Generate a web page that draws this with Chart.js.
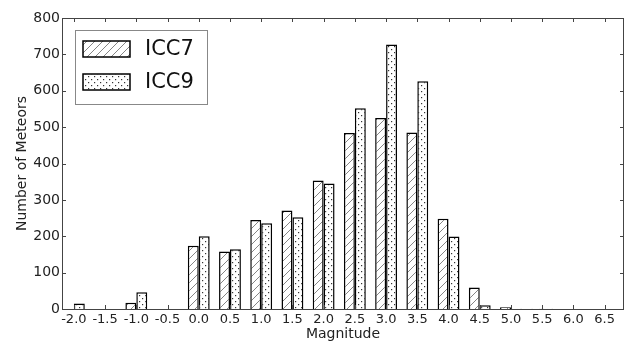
<!DOCTYPE html>
<html>
<head>
<meta charset="utf-8">
<script src="https://cdn.jsdelivr.net/npm/chart.js@4"></script>
<style>
  html, body { margin: 0; padding: 0; background: #fff; }
  #wrap { width: 625px; height: 343px; }
</style>
</head>
<body>
<div id="wrap"><canvas id="chart"></canvas></div>
<script>
// Data
const magnitudes = [-2.0, -1.5, -1.0, -0.5, 0.0, 0.5, 1.0, 1.5, 2.0, 2.5, 3.0, 3.5, 4.0, 4.5, 5.0, 5.5, 6.0, 6.5];
const icc7 = [0, 0, 17, 0, 174, 158, 245, 271, 353, 484, 525, 485, 248, 59, 5, 1, 0, 0];
const icc9 = [15, 0, 46, 0, 200, 164, 236, 252, 345, 552, 727, 626, 199, 10, 1, 1, 0, 0];
const yTicks = [0, 100, 200, 300, 400, 500, 600, 700, 800];

// --- fill patterns ---
function makeHatch() {
    const c = document.createElement('canvas');
    c.width = 8; c.height = 8;
    const g = c.getContext('2d');
    g.fillStyle = '#fff';
    g.fillRect(0, 0, 8, 8);
    g.strokeStyle = '#777';
    g.lineWidth = 0.9;
    g.beginPath();
    g.moveTo(0, 8); g.lineTo(8, 0);
    g.moveTo(-1, 1); g.lineTo(1, -1);
    g.moveTo(7, 9); g.lineTo(9, 7);
    g.stroke();
    return g.createPattern(c, 'repeat');
}

function makeDots() {
    const c = document.createElement('canvas');
    c.width = 6; c.height = 6;
    const g = c.getContext('2d');
    g.fillStyle = '#fff';
    g.fillRect(0, 0, 6, 6);
    g.fillStyle = '#333';
    g.fillRect(1, 1, 1.2, 1.2);
    g.fillRect(4, 4, 1.2, 1.2);
    return g.createPattern(c, 'repeat');
}

const hatch = makeHatch();
const dots = makeDots();

// frame, inward ticks and the legend box, matplotlib style
const framePlugin = {
    id: 'frame',
    afterDatasetsDraw(chart) {
        const { ctx, chartArea: a, scales } = chart;
        ctx.save();
        ctx.strokeStyle = '#444';
        ctx.lineWidth = 1;
        ctx.strokeRect(a.left + 0.5, a.top + 0.5, a.right - a.left - 1, a.bottom - a.top);
        ctx.beginPath();
        magnitudes.forEach(m => {
            const x = Math.round(scales.x.getPixelForValue(m)) + 0.5;
            ctx.moveTo(x, a.bottom); ctx.lineTo(x, a.bottom - 4);
            ctx.moveTo(x, a.top); ctx.lineTo(x, a.top + 4);
        });
        yTicks.forEach(v => {
            const y = Math.round(scales.y.getPixelForValue(v)) + 0.5;
            ctx.moveTo(a.left, y); ctx.lineTo(a.left + 4, y);
            ctx.moveTo(a.right, y); ctx.lineTo(a.right - 4, y);
        });
        ctx.stroke();

        // legend
        const lx = 75, ly = 30, lw = 132, lh = 74;
        ctx.fillStyle = '#fff';
        ctx.fillRect(lx, ly, lw, lh);
        ctx.strokeStyle = '#888';
        ctx.strokeRect(lx + 0.5, ly + 0.5, lw, lh);
        chart.data.datasets.forEach((ds, i) => {
            const sy = 41 + i * 33;
            ctx.fillStyle = ds.backgroundColor;
            ctx.fillRect(83, sy, 47, 16);
            ctx.strokeStyle = '#000';
            ctx.lineWidth = 1.5;
            ctx.strokeRect(83, sy, 47, 16);
            ctx.fillStyle = '#111';
            ctx.font = '21px "DejaVu Sans"';
            ctx.textBaseline = 'middle';
            ctx.fillText(ds.label, 145, sy + 9);
        });
        ctx.restore();
    }
};

const xTickFont = { family: 'DejaVu Sans', size: 13 };
const labelFont = { family: 'DejaVu Sans', size: 14 };

new Chart(document.getElementById('chart'), {
    type: 'bar',
    data: {
        datasets: [
            {
                label: 'ICC7',
                data: magnitudes.map((m, i) => ({ x: m, y: icc7[i] })),
                backgroundColor: hatch,
                borderColor: '#000',
                borderWidth: 1.5
            },
            {
                label: 'ICC9',
                data: magnitudes.map((m, i) => ({ x: m, y: icc9[i] })),
                backgroundColor: dots,
                borderColor: '#000',
                borderWidth: 1.5
            }
        ]
    },
    options: {
        responsive: true,
        maintainAspectRatio: false,
        animation: false,
        categoryPercentage: 0.7,
        barPercentage: 1.0,
        layout: { padding: { top: 18, right: 1, left: 0, bottom: 0 } },
        plugins: {
            legend: { display: false },
            tooltip: { enabled: false }
        },
        scales: {
            x: {
                type: 'linear',
                min: -2.19,
                max: 6.81,
                offset: false,
                grid: { display: false, drawTicks: false },
                border: { display: false },
                afterBuildTicks: axis => {
                    axis.ticks = magnitudes.map(v => ({ value: v }));
                },
                afterFit: axis => { axis.height = 34; },
                ticks: {
                    autoSkip: false,
                    maxRotation: 0,
                    padding: 3,
                    color: '#222',
                    font: xTickFont,
                    callback: v => v.toFixed(1)
                },
                title: {
                    display: true,
                    text: 'Magnitude',
                    color: '#222',
                    font: labelFont,
                    padding: { top: 0, bottom: 0 }
                }
            },
            y: {
                min: 0,
                max: 800,
                grid: { display: false, drawTicks: false },
                border: { display: false },
                afterFit: axis => { axis.width = 62; },
                ticks: {
                    stepSize: 100,
                    padding: 2,
                    color: '#222',
                    font: labelFont
                },
                title: {
                    display: true,
                    text: 'Number of Meteors',
                    color: '#222',
                    font: labelFont,
                    padding: { top: 14, bottom: 0 }
                }
            }
        }
    },
    plugins: [framePlugin]
});
</script>
</body>
</html>
